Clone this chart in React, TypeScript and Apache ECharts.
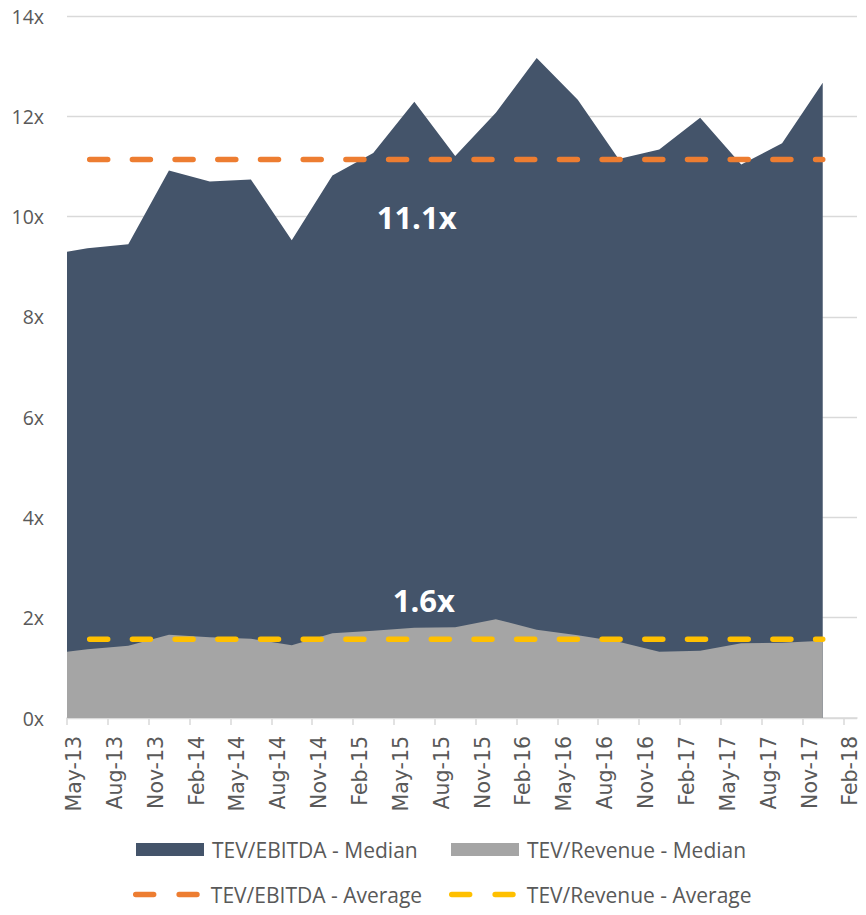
import React, { useEffect, useRef } from "react";
import * as echarts from "echarts";

// Period dates of each observation (first point at start of May-13, then mid-quarter-end months)
const periodDates = [
  "2013-05-01", "2013-06-16", "2013-09-16", "2013-12-16", "2014-03-16",
  "2014-06-16", "2014-09-16", "2014-12-16", "2015-03-16", "2015-06-16",
  "2015-09-16", "2015-12-16", "2016-03-16", "2016-06-16", "2016-09-16",
  "2016-12-16", "2017-03-16", "2017-06-16", "2017-09-16", "2017-12-16",
];

const tevEbitdaMedian = [
  9.30, 9.37, 9.45, 10.92, 10.70, 10.74, 9.53, 10.82, 11.27, 12.29,
  11.21, 12.07, 13.16, 12.33, 11.15, 11.34, 11.97, 11.04, 11.46, 12.67,
];

const tevRevenueMedian = [
  1.32, 1.37, 1.44, 1.66, 1.61, 1.58, 1.45, 1.69, 1.74, 1.80,
  1.81, 1.97, 1.76, 1.65, 1.52, 1.32, 1.34, 1.49, 1.50, 1.54,
];

const tevEbitdaAverage = 11.14;
const tevRevenueAverage = 1.57;

const xTickLabels = [
  "May-13", "Aug-13", "Nov-13", "Feb-14", "May-14", "Aug-14", "Nov-14",
  "Feb-15", "May-15", "Aug-15", "Nov-15", "Feb-16", "May-16", "Aug-16",
  "Nov-16", "Feb-17", "May-17", "Aug-17", "Nov-17", "Feb-18",
];

const yTicks = [0, 2, 4, 6, 8, 10, 12, 14];

const seriesNames = [
  "TEV/EBITDA - Median",
  "TEV/Revenue - Median",
  "TEV/EBITDA - Average",
  "TEV/Revenue - Average",
];

// legend glyph for the dashed average lines: two rounded dashes
const dashIcon =
  "path://M2.75,0 H20.65 A2.75,2.75 0 0 1 20.65,5.5 H2.75 A2.75,2.75 0 0 1 2.75,0 Z " +
  "M46.15,0 H63.95 A2.75,2.75 0 0 1 63.95,5.5 H46.15 A2.75,2.75 0 0 1 46.15,0 Z";

// convert a date to months since May 2013 (axis origin)
function monthIndex(d: string): number {
  const [y, m, day] = d.split("-").map(Number);
  const dim = new Date(y, m, 0).getDate();
  return (y - 2013) * 12 + (m - 5) + (day - 1) / dim;
}

export default function App() {
  const ref = useRef<HTMLDivElement>(null);

  useEffect(() => {
    if (!ref.current) return;
    const chart = echarts.init(ref.current, undefined, { renderer: "svg" });
    const xs = periodDates.map(monthIndex);
    const ebitda = xs.map((x, i) => [x, tevEbitdaMedian[i]]);
    const revenue = xs.map((x, i) => [x, tevRevenueMedian[i]]);
    const xFirst = xs[0];
    const xLast = xs[xs.length - 1];
    const tickValues = xTickLabels.map((_, i) => i * 3);
    const font = "'Open Sans', sans-serif";
    const textGrey = "#595959";

    const legendBase = {
      orient: "horizontal",
      padding: 0,
      itemWidth: 68,
      itemHeight: 13,
      selectedMode: false,
      itemStyle: { borderWidth: 0 },
      textStyle: { fontSize: 21, color: textGrey, fontFamily: font, padding: [0, 0, 0, 3] },
    };
    const lineLegend = {
      ...legendBase,
      itemWidth: 67,
      itemHeight: 5.5,
      textStyle: { ...legendBase.textStyle, padding: [0, 0, 0, 6] },
    };

    chart.setOption({
      animation: false,
      backgroundColor: "#ffffff",
      grid: { left: 67, right: 9, top: 16, bottom: 197, containLabel: false },
      legend: [
        { ...legendBase, left: 136, top: 839, data: [{ name: seriesNames[0], icon: "rect" }] },
        { ...legendBase, left: 451, top: 839, data: [{ name: seriesNames[1], icon: "rect" }] },
        { ...lineLegend, left: 133, top: 884, data: [{ name: seriesNames[2], icon: dashIcon }] },
        { ...lineLegend, left: 449, top: 884, data: [{ name: seriesNames[3], icon: dashIcon }] },
      ],
      xAxis: {
        type: "value",
        min: 0,
        max: 58,
        interval: 3,
        axisLine: { show: true, lineStyle: { color: "#D9D9D9", width: 1.5 } },
        axisTick: {
          show: true,
          length: 7,
          lineStyle: { color: "#D9D9D9", width: 1.5 },
          customValues: tickValues,
        },
        splitLine: { show: false },
        axisLabel: {
          show: true,
          rotate: 90,
          margin: 18,
          customValues: tickValues,
          color: textGrey,
          fontSize: 20.5,
          fontFamily: "'DejaVu Sans', sans-serif",
          verticalAlign: "top",
          lineHeight: 14,
          formatter: (v: number) => xTickLabels[Math.round(v / 3)] ?? "",
        },
      },
      yAxis: {
        type: "value",
        min: yTicks[0],
        max: yTicks[yTicks.length - 1],
        interval: 2,
        axisLine: { show: false },
        axisTick: { show: false },
        splitLine: { show: true, lineStyle: { color: "#D9D9D9", width: 1.3 } },
        axisLabel: {
          margin: 23,
          color: textGrey,
          fontSize: 19.5,
          fontFamily: font,
          formatter: (v: number) => `${v}x`,
        },
      },
      series: [
        {
          name: seriesNames[0],
          type: "line",
          data: ebitda,
          color: "#44546A",
          symbol: "none",
          lineStyle: { width: 0, color: "#44546A" },
          itemStyle: { color: "#44546A" },
          areaStyle: { color: "#44546A", opacity: 1 },
          z: 1,
        },
        {
          name: seriesNames[1],
          type: "line",
          data: revenue,
          color: "#A5A5A5",
          symbol: "none",
          lineStyle: { width: 0, color: "#A5A5A5" },
          itemStyle: { color: "#A5A5A5" },
          areaStyle: { color: "#A5A5A5", opacity: 1 },
          z: 2,
        },
        {
          name: seriesNames[2],
          type: "line",
          data: [[xFirst, tevEbitdaAverage], [xLast, tevEbitdaAverage]],
          color: "#ED7D31",
          symbol: "none",
          lineStyle: { color: "#ED7D31", width: 5.5, type: [18, 24.7], dashOffset: 20, cap: "round" },
          itemStyle: { color: "#ED7D31" },
          z: 3,
          markPoint: {
            symbol: "circle",
            symbolSize: 0,
            silent: true,
            label: {
              show: true,
              position: "inside",
              color: "#ffffff",
              fontSize: 31,
              fontWeight: "bold",
              fontFamily: font,
              formatter: () => `${tevEbitdaAverage.toFixed(1)}x`,
            },
            data: [{ coord: [25.67, 9.99] }],
          },
        },
        {
          name: seriesNames[3],
          type: "line",
          data: [[xFirst, tevRevenueAverage], [xLast, tevRevenueAverage]],
          color: "#FFC000",
          symbol: "none",
          lineStyle: { color: "#FFC000", width: 5.5, type: [18, 24.7], dashOffset: 20, cap: "round" },
          itemStyle: { color: "#FFC000" },
          z: 3,
          markPoint: {
            symbol: "circle",
            symbolSize: 0,
            silent: true,
            label: {
              show: true,
              position: "inside",
              color: "#ffffff",
              fontSize: 31,
              fontWeight: "bold",
              fontFamily: font,
              formatter: () => `${tevRevenueAverage.toFixed(1)}x`,
            },
            data: [{ coord: [26.2, 2.35] }],
          },
        },
      ],
    });
    return () => chart.dispose();
  }, []);

  return (
    <div
      ref={ref}
      style={{ position: "fixed", left: 0, top: 0, width: 866, height: 915, background: "#fff" }}
    />
  );
}
